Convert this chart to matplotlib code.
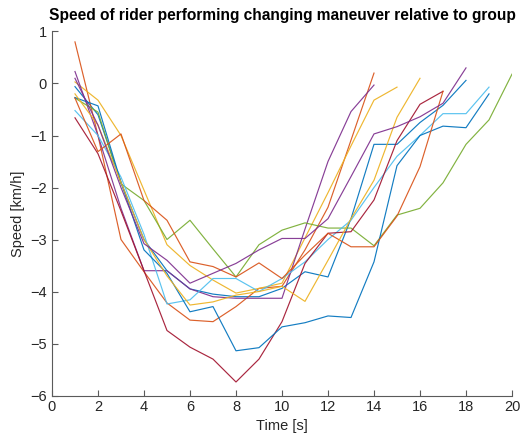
import matplotlib
matplotlib.use("Agg")
import matplotlib.pyplot as plt

plt.rcParams['font.family'] = ['Liberation Sans', 'DejaVu Sans']

# MATLAB default colour order
blue = '#0072BD'
orange = '#D95319'
yellow = '#EDB120'
purple = '#7E2F8E'
green = '#77AC30'
lightblue = '#4DBEEE'
darkred = '#A2142F'

blue_a = [-0.06, -0.6, -1.9, -3.0, -3.6, -3.95, -4.05, -4.1, -4.1, -3.94, -3.62, -3.72, -2.6, -1.17, -1.17, -0.75, -0.42, 0.06]
orange_a = [0.8, -1.0, -3.0, -3.62, -4.22, -4.55, -4.58, -4.29, -3.94, -3.9, -3.2, -2.38, -1.09, 0.2]
yellow_a = [0.03, -0.32, -1.0, -2.05, -3.1, -3.5, -3.78, -4.03, -3.94, -3.84, -2.97, -2.1, -1.2, -0.32, -0.07]
purple_a = [0.23, -1.0, -2.4, -3.6, -3.6, -3.95, -4.1, -4.13, -4.13, -4.13, -2.8, -1.5, -0.54, -0.03]
green_a = [-0.28, -0.55, -1.93, -2.25, -3.0, -2.63, -3.18, -3.72, -3.1, -2.82, -2.68, -2.78, -2.78, -3.12, -2.53, -2.4, -1.91, -1.17, -0.7, 0.18]
lightblue_a = [-0.52, -1.0, -1.8, -2.9, -4.24, -4.16, -3.75, -3.75, -4.0, -3.75, -3.43, -3.0, -2.63, -2.0, -1.4, -1.0, -0.58, -0.58, -0.07]
darkred_a = [-0.66, -1.35, -2.45, -3.6, -4.75, -5.07, -5.3, -5.74, -5.3, -4.58, -3.46, -2.88, -2.85, -2.24, -1.1, -0.4, -0.15]
blue_b = [-0.27, -0.43, -1.9, -3.2, -3.65, -4.39, -4.29, -5.14, -5.08, -4.68, -4.6, -4.47, -4.5, -3.43, -1.58, -1.0, -0.82, -0.85, -0.2]
orange_b = [-0.28, -1.31, -0.97, -2.25, -2.63, -3.43, -3.52, -3.72, -3.45, -3.75, -3.3, -2.88, -3.14, -3.14, -2.55, -1.6, -0.15]
yellow_b = [-0.2, -0.8, -1.9, -3.0, -3.7, -4.26, -4.2, -4.07, -4.0, -3.9, -4.19, -3.4, -2.6, -1.86, -0.65, 0.1]
purple_b = [0.1, -0.8, -2.0, -3.08, -3.4, -3.84, -3.65, -3.46, -3.2, -2.98, -2.98, -2.6, -1.79, -0.97, -0.83, -0.64, -0.38, 0.3]

series = [
    (blue_a, blue), (orange_a, orange), (yellow_a, yellow), (purple_a, purple),
    (green_a, green), (lightblue_a, lightblue), (darkred_a, darkred),
    (blue_b, blue), (orange_b, orange), (yellow_b, yellow), (purple_b, purple),
]

title = 'Speed of rider performing changing maneuver relative to group'
xlabel = 'Time [s]'
ylabel = 'Speed [km/h]'
xticks = list(range(0, 21, 2))
yticks = list(range(-6, 2))

fig = plt.figure(figsize=(5.24, 4.43), dpi=100)
ax = fig.add_axes([0.0992, 0.1072, 0.8779, 0.8217])

for vals, col in series:
    t = list(range(1, len(vals) + 1))
    ax.plot(t, vals, color=col, lw=0.85, alpha=0.92)

ax.set_xlim(0, 20)
ax.set_ylim(-6, 1)
ax.set_xticks(xticks)
ax.set_yticks(yticks)
ax.spines['top'].set_visible(False)
ax.spines['right'].set_visible(False)
axcol = '#5a5a5a'
for s in ('left', 'bottom'):
    ax.spines[s].set_color(axcol)
    ax.spines[s].set_linewidth(0.8)
ax.tick_params(direction='in', length=4, width=0.8, color=axcol, labelsize=10.5, labelcolor='#262626')
ax.set_xlabel(xlabel, fontsize=10.5, color='#262626', labelpad=3)
ax.set_ylabel(ylabel, fontsize=10.5, color='#262626', labelpad=4)
ax.set_title(title, fontsize=11.2, fontweight='bold', pad=8)

fig.savefig('out.png', dpi=100)
